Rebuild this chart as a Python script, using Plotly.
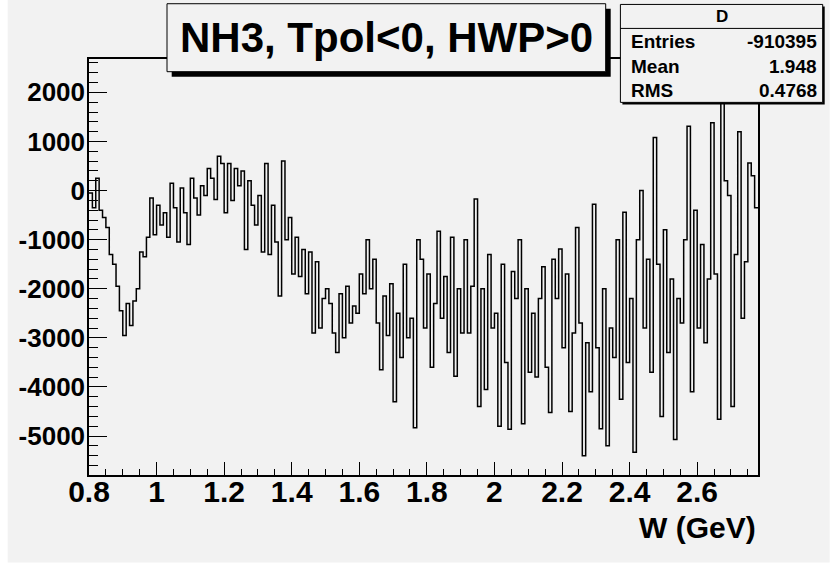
import plotly.graph_objects as go

# ---------------- data ----------------
W_MIN = 0.8
BIN_WIDTH = 0.01
W_MAX = 2.78
counts = [
    -50, -350, 250, -400, -550, -750, -1300, -1500, -1950, -2450,
    -2950, -2300, -2750, -2250, -2000, -1250, -1350, -950, -150, -900,
    -300, -700, -450, -950, 150, -350, -1050, 50, -450, -1100,
    250, -150, -500, 100, -100, 450, 250, -180, 700, 550,
    -450, 550, -200, 450, 100, 400, -1200, 200, -300, -700,
    -100, -1250, 550, -1300, -300, -1050, -2150, 600, -1000, -550,
    -1700, -950, -1750, -1200, -2100, -1250, -2900, -1450, -2800, -2200,
    -2000, -2300, -2900, -3300, -2100, -3000, -1950, -2700, -2350, -2500,
    -1700, -2100, -1000, -2000, -1400, -2700, -3650, -2150, -2950, -1900,
    -4300, -2500, -3400, -1500, -3000, -2600, -4830, -1000, -1400, -2800,
    -1700, -3600, -2300, -830, -2600, -1750, -3300, -950, -3780, -2000,
    -2900, -1000, -2900, -1950, -170, -4400, -2000, -4050, -1300, -2800,
    -2500, -4800, -1500, -3500, -4860, -1650, -2200, -1000, -4750, -2000,
    -3700, -2500, -3800, -2200, -1550, -3600, -4520, -1400, -2200, -1190,
    -3200, -1700, -4500, -2900, -750, -2700, -5400, -3100, -4100, -280,
    -3200, -4850, -2000, -5200, -2800, -3400, -1000, -4250, -440, -3500,
    -2200, -5330, -1000, 0, -2800, -1400, -3700, 1080, -1500, -4600,
    -800, -3300, -1800, -5070, -2200, -2700, -1000, 1310, -4100, -400,
    -2800, -1100, -3100, -1800, 1380, -1700, -4660, 2300, 200, -100,
    -4400, -1300, 1200, -2600, -1450, 560, 300, -350,
]
x_ticks = [0.8, 1.0, 1.2, 1.4, 1.6, 1.8, 2.0, 2.2, 2.4, 2.6]
x_tick_labels = ["0.8", "1", "1.2", "1.4", "1.6", "1.8", "2", "2.2", "2.4", "2.6"]
y_ticks = [2000, 1000, 0, -1000, -2000, -3000, -4000, -5000]
y_tick_labels = ["2000", "1000", "0", "-1000", "-2000", "-3000", "-4000", "-5000"]
Y_RANGE = [-5794, 2680]
title_text = "NH3, Tpol&lt;0, HWP&gt;0"
stats_name = "D"
stats_rows = [("Entries", "-910395"), ("Mean", "1.948"), ("RMS", "0.4768")]
x_title = "W (GeV)"

# ---------------- layout geometry ----------------
W, H = 830, 567
L, R, T, B = 89.3, 758.3, 59.3, 475.5
BG = "#f2f2f2"
FONT = "Liberation Sans"


def px(x):
    return (x - L) / (R - L)


def py(y):
    return (B - y) / (B - T)


edges = [W_MIN + BIN_WIDTH * i for i in range(len(counts) + 1)]
ys = counts + [counts[-1]]

fig = go.Figure()
fig.add_trace(go.Scatter(
    x=edges, y=ys, mode="lines", line=dict(color="black", width=1.5, shape="hv"),
    hoverinfo="skip", showlegend=False,
))

shapes = []
annotations = []

# canvas gray area
shapes.append(dict(type="rect", xref="paper", yref="paper", x0=px(8), x1=px(830), y0=py(0), y1=py(563),
                   fillcolor=BG, line=dict(width=0), layer="below"))

# title box with shadow
shapes.append(dict(type="rect", xref="paper", yref="paper", x0=px(172), x1=px(611), y0=py(9), y1=py(77),
                   fillcolor="black", line=dict(width=0), layer="above"))
shapes.append(dict(type="rect", xref="paper", yref="paper", x0=px(167.3), x1=px(606), y0=py(4), y1=py(72),
                   fillcolor=BG, line=dict(color="black", width=1), layer="above"))
annotations.append(dict(text=title_text, xref="paper", yref="paper", x=px(386.5), y=py(38),
                        xanchor="center", yanchor="middle", showarrow=False,
                        font=dict(family=FONT, size=42, color="black", weight="bold")))

# stats box with shadow
shapes.append(dict(type="rect", xref="paper", yref="paper", x0=px(622.7), x1=px(825), y0=py(6.7), y1=py(104.7),
                   fillcolor="black", line=dict(width=0), layer="above"))
shapes.append(dict(type="rect", xref="paper", yref="paper", x0=px(620.7), x1=px(823), y0=py(4.7), y1=py(102.7),
                   fillcolor=BG, line=dict(color="black", width=1), layer="above"))
shapes.append(dict(type="line", xref="paper", yref="paper", x0=px(620.7), x1=px(823), y0=py(28.7), y1=py(28.7),
                   line=dict(color="black", width=1), layer="above"))
annotations.append(dict(text=stats_name, xref="paper", yref="paper", x=px(722), y=py(16.5),
                        xanchor="center", yanchor="middle", showarrow=False,
                        font=dict(family=FONT, size=17, color="black", weight="bold")))
row_y = [42, 67, 91]
for (lab, val), ry in zip(stats_rows, row_y):
    annotations.append(dict(text=lab, xref="paper", yref="paper", x=px(629), y=py(ry),
                            xanchor="left", yanchor="middle", showarrow=False,
                            font=dict(family=FONT, size=19, color="black", weight="bold")))
    annotations.append(dict(text=val, xref="paper", yref="paper", x=px(819), y=py(ry),
                            xanchor="right", yanchor="middle", showarrow=False,
                            font=dict(family=FONT, size=19, color="black", weight="bold")))

# x-axis title
annotations.append(dict(text=x_title, xref="paper", yref="paper", x=px(758.5), y=py(528),
                        xanchor="right", yanchor="middle", showarrow=False,
                        font=dict(family=FONT, size=30, color="black", weight="bold")))

fig.update_layout(
    width=W, height=H,
    margin=dict(l=L, r=W - R, t=T, b=H - B, pad=0),
    paper_bgcolor="white", plot_bgcolor=BG,
    shapes=shapes, annotations=annotations,
    showlegend=False,
)
fig.update_xaxes(
    range=[W_MIN, W_MAX], tickvals=x_ticks, ticktext=x_tick_labels,
    ticks="inside", ticklen=13, tickwidth=1, tickcolor="black",
    minor=dict(dtick=0.05, tick0=0.8, ticks="inside", ticklen=6.5, tickwidth=1, tickcolor="black"),
    showline=True, linecolor="black", linewidth=1.5, mirror=True,
    showgrid=False, zeroline=False, ticklabelstandoff=-11,
    tickfont=dict(family=FONT, size=30, color="black", weight="bold"),
)
fig.update_yaxes(
    range=Y_RANGE, tickvals=y_ticks, ticktext=y_tick_labels,
    ticks="inside", ticklen=18, tickwidth=1, tickcolor="black",
    minor=dict(dtick=200, tick0=0, ticks="inside", ticklen=9, tickwidth=1, tickcolor="black"),
    showline=True, linecolor="black", linewidth=1.5, mirror=True,
    showgrid=False, zeroline=False, ticklabelstandoff=-3,
    tickfont=dict(family=FONT, size=26, color="black", weight="bold"),
)

fig.write_html("out.html", config={"displayModeBar": False},
               post_script="document.body.style.margin='0';document.body.style.padding='0';")
